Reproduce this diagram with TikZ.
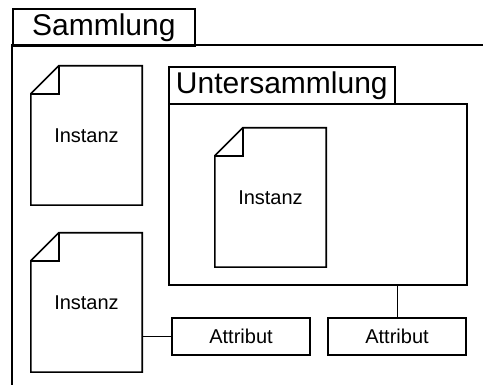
\documentclass[tikz,border=0pt]{standalone}
\usepackage{fontspec}
\setmainfont{Liberation Sans}
\usetikzlibrary{calc}
\newcommand\drawdoc[1]{%
  \draw[boxline] ($(#1.north west)+(28,0)$) -- (#1.north east) -- (#1.south east) -- (#1.south west) -- ($(#1.north west)+(0,28)$) -- cycle;
  \draw[boxline] ($(#1.north west)+(0,28)$) -- ($(#1.north west)+(28,28)$) -- ($(#1.north west)+(28,0)$);
}
\begin{document}
\begin{tikzpicture}[x=1pt,y=-1pt,
  boxline/.style={line width=1.6pt, line join=miter},
  conn/.style={line width=1pt},
  tab/.style={draw, line width=1.6pt, minimum height=37pt, inner sep=0pt, font=\fontsize{30}{34}\selectfont, anchor=north west},
  docnode/.style={minimum width=111pt, minimum height=139pt, inner sep=0pt, font=\fontsize{20}{24}\selectfont},
  attr/.style={draw, line width=1.6pt, minimum width=138pt, minimum height=37pt, inner sep=0pt, font=\fontsize{20}{24}\selectfont}
]
\useasboundingbox (0,0) rectangle (483,385);
% Sammlung frame
\node[tab, minimum width=182pt] (sam) at (12,8) {Sammlung};
\coordinate (fl) at (12,385);
\coordinate (fr) at (483,45);
\draw[boxline] (fl) |- (fr);
% Untersammlung
\node[tab, minimum width=226pt] (usam) at (168,66) {Untersammlung};
\node[draw, line width=1.6pt, minimum width=298pt, minimum height=181pt, inner sep=0pt, anchor=north west] (ub) at (168,103) {};
% Instances
\node[docnode] (i1) at (86.5,135.5) {Instanz};
\drawdoc{i1}
\node[docnode] (i2) at (86.5,302.5) {Instanz};
\drawdoc{i2}
\node[docnode] (i3) at (270.5,197.5) {Instanz};
\drawdoc{i3}
% Attributes
\node[attr] (a1) at (241,336.5) {Attribut};
\node[attr] (a2) at (397,336.5) {Attribut};
\draw[conn] (a1.west) -- (a1.west -| i2.east);
\draw[conn] (a2.north) -- (a2.north |- ub.south);
\end{tikzpicture}
\end{document}
